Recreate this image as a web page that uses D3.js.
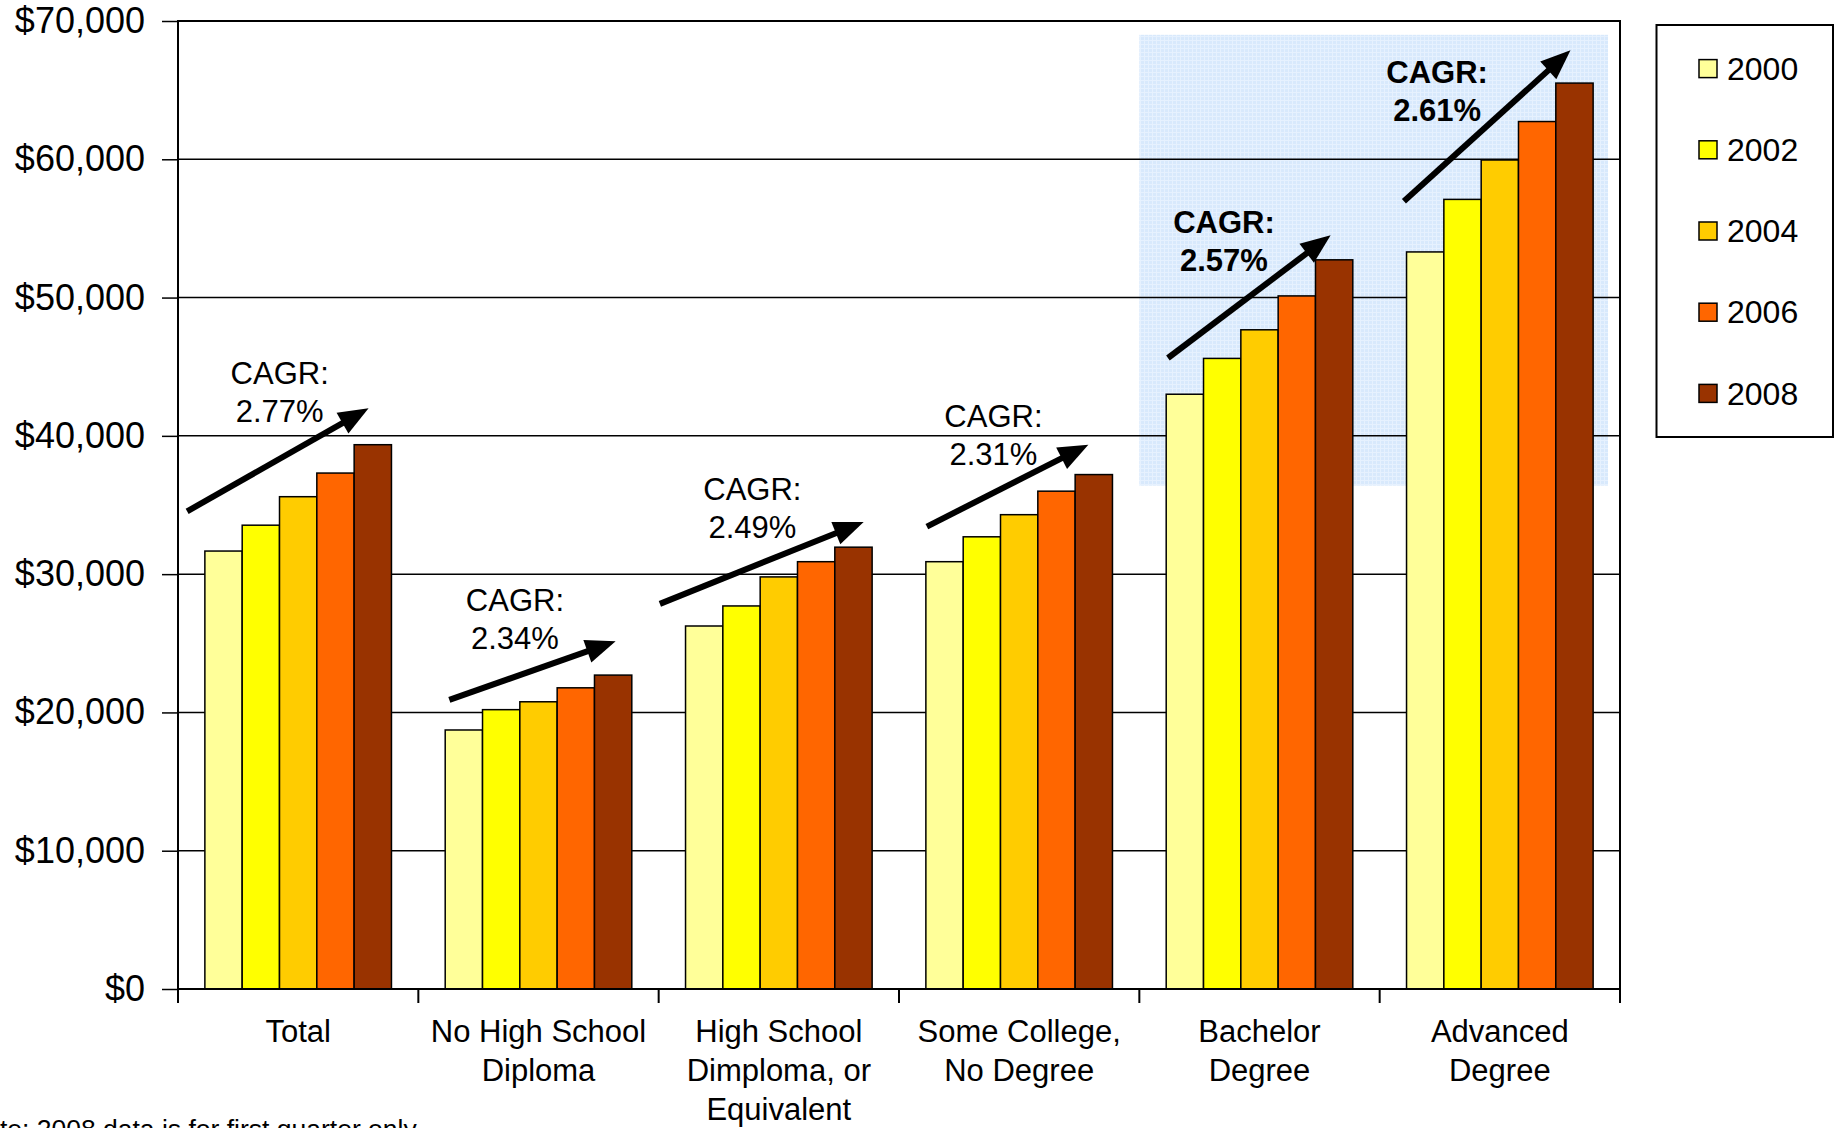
<!DOCTYPE html>
<html>
<head>
<meta charset="utf-8">
<script src="https://cdn.jsdelivr.net/npm/d3@7"></script>
<style>
  body { margin: 0; background: #fff; }
  svg { display: block; font-family: "Liberation Sans", Arial, sans-serif; }
</style>
</head>
<body>
<script>
// ---- data ----
var categories = ["Total", "No High School Diploma", "High School Dimploma, or Equivalent",
                  "Some College, No Degree", "Bachelor Degree", "Advanced Degree"];
var categoryLines = [["Total"], ["No High School", "Diploma"], ["High School", "Dimploma, or", "Equivalent"],
                     ["Some College,", "No Degree"], ["Bachelor", "Degree"], ["Advanced", "Degree"]];
var years = ["2000", "2002", "2004", "2006", "2008"];

var income2000 = [31670, 18730, 26250, 30900, 43010, 53300];
var income2002 = [33540, 20200, 27700, 32700, 45600, 57100];
var income2004 = [35600, 20770, 29800, 34300, 47670, 59950];
var income2006 = [37310, 21780, 30900, 36000, 50120, 62730];
var income2008 = [39360, 22700, 31950, 37200, 52730, 65510];
var seriesValues = [income2000, income2002, income2004, income2006, income2008];

var yTicks = [0, 10000, 20000, 30000, 40000, 50000, 60000, 70000];

// CAGR annotations: label, arrow tail/tip as [fraction of category band, value]
var cagrLabels = ["2.77%", "2.34%", "2.49%", "2.31%", "2.57%", "2.61%"];
var arrowTail = [[0.038, 34540], [0.129, 20910], [0.005, 27850], [0.116, 33440], [0.119, 45630], [0.101, 56960]];
var arrowTip  = [[0.793, 41990], [0.821, 25140], [0.853, 33770], [0.788, 39360], [0.796, 54510], [0.794, 67880]];
var labelAnchor = [[0.423, 44550], [0.402, 28130], [0.390, 36160], [0.393, 41390], [0.352, 55430], [0.239, 66270]];

var highlighted = ["Bachelor Degree", "Advanced Degree"];
var highlightValues = [36400, 69000];

var note = "Note: 2008 data is for first quarter only";

// ---- layout ----
var width_outer = 1835, height_outer = 1128;
var margin = {top: 21, left: 178, right: 215, bottom: 139};
var plotRight = width_outer - margin.right;
var plotBottom = height_outer - margin.bottom;
var colors = ["#FFFF99", "#FFFF00", "#FFCC00", "#FF6600", "#993300"];

var svg = d3.select("body").append("svg")
  .attr("width", width_outer)
  .attr("height", height_outer);

var x0 = d3.scaleBand().domain(categories).range([margin.left, plotRight]).padding(0);
var x1 = d3.scaleBand().domain(years).range([0, x0.bandwidth()]).paddingInner(0).paddingOuter(0.72);
var y = d3.scaleLinear().domain([0, 70000]).range([plotBottom, margin.top]);
var color = d3.scaleOrdinal().domain(years).range(colors);

function bandX(ci, frac) { return x0(categories[ci]) + frac * x0.bandwidth(); }

// highlight area
var defs = svg.append("defs");
var pat = defs.append("pattern")
  .attr("id", "dots")
  .attr("width", 4).attr("height", 4)
  .attr("patternUnits", "userSpaceOnUse");
pat.append("rect").attr("width", 4).attr("height", 4).attr("fill", "#d8e9fc");
pat.append("rect").attr("width", 4).attr("height", 1).attr("fill", "#e6f1fe");
pat.append("rect").attr("width", 1).attr("height", 4).attr("fill", "#e6f1fe");

var hx = x0(highlighted[0]);
var hx2 = x0(highlighted[1]) + x0.bandwidth() * 0.95;
svg.append("rect")
  .attr("x", hx)
  .attr("y", y(highlightValues[1]))
  .attr("width", hx2 - hx)
  .attr("height", y(highlightValues[0]) - y(highlightValues[1]))
  .attr("fill", "url(#dots)");

// gridlines
svg.append("g").selectAll("line")
  .data(yTicks.slice(1, -1))
  .enter().append("line")
  .attr("x1", margin.left).attr("x2", plotRight)
  .attr("y1", function(d) { return y(d); }).attr("y2", function(d) { return y(d); })
  .attr("stroke", "#000").attr("stroke-width", 1.5);

// bars
var groups = svg.append("g").selectAll("g")
  .data(categories)
  .enter().append("g")
  .attr("transform", function(d) { return "translate(" + x0(d) + ",0)"; });

groups.selectAll("rect")
  .data(function(d, i) { return years.map(function(yr, j) { return {year: yr, value: seriesValues[j][i]}; }); })
  .enter().append("rect")
  .attr("x", function(d) { return x1(d.year); })
  .attr("y", function(d) { return y(d.value); })
  .attr("width", x1.bandwidth())
  .attr("height", function(d) { return y(0) - y(d.value); })
  .attr("fill", function(d) { return color(d.year); })
  .attr("stroke", "#000")
  .attr("stroke-width", 1.5);

// plot frame
svg.append("rect")
  .attr("x", margin.left).attr("y", margin.top)
  .attr("width", plotRight - margin.left).attr("height", plotBottom - margin.top)
  .attr("fill", "none").attr("stroke", "#000").attr("stroke-width", 2);

// y axis
var yAxis = d3.axisLeft(y)
  .tickValues(yTicks)
  .tickSize(16)
  .tickPadding(17)
  .tickFormat(d3.format("$,"));
var gy = svg.append("g")
  .attr("transform", "translate(" + margin.left + ",0)")
  .call(yAxis);
gy.select(".domain").remove();
gy.selectAll(".tick line").attr("stroke", "#000").attr("stroke-width", 1.5);
gy.selectAll(".tick text")
  .attr("fill", "#000")
  .style("font-family", "Liberation Sans, Arial, sans-serif")
  .style("font-size", "36px");

// x axis ticks at category boundaries
var bounds = categories.map(function(c) { return x0(c); }).concat([plotRight]);
svg.append("g").selectAll("line")
  .data(bounds)
  .enter().append("line")
  .attr("x1", function(d) { return d; }).attr("x2", function(d) { return d; })
  .attr("y1", plotBottom).attr("y2", plotBottom + 14)
  .attr("stroke", "#000").attr("stroke-width", 2);

// category labels
var catLabels = svg.append("g").selectAll("text")
  .data(categories)
  .enter().append("text")
  .attr("text-anchor", "middle")
  .attr("font-size", 31)
  .attr("fill", "#000");
catLabels.each(function(d, i) {
  var t = d3.select(this);
  var cx = x0(d) + x0.bandwidth() / 2;
  categoryLines[i].forEach(function(line, k) {
    t.append("tspan")
      .attr("x", cx)
      .attr("y", plotBottom + 42 + k * 39.3)
      .attr("dy", "0.35em")
      .text(line);
  });
});

// CAGR arrows
var headLen = 30, headHalf = 12;
categories.forEach(function(c, i) {
  var xa = bandX(i, arrowTail[i][0]), ya = y(arrowTail[i][1]);
  var xb = bandX(i, arrowTip[i][0]), yb = y(arrowTip[i][1]);
  var dx = xb - xa, dy = yb - ya, len = Math.sqrt(dx * dx + dy * dy);
  var ux = dx / len, uy = dy / len;
  var bx = xb - ux * headLen, by = yb - uy * headLen;
  svg.append("line")
    .attr("x1", xa).attr("y1", ya)
    .attr("x2", bx + ux * 2).attr("y2", by + uy * 2)
    .attr("stroke", "#000").attr("stroke-width", 6);
  svg.append("path")
    .attr("d", "M" + xb + "," + yb +
               "L" + (bx - uy * headHalf) + "," + (by + ux * headHalf) +
               "L" + (bx + uy * headHalf) + "," + (by - ux * headHalf) + "Z")
    .attr("fill", "#000");

  var bold = highlighted.indexOf(c) >= 0;
  var lx = bandX(i, labelAnchor[i][0]), ly = y(labelAnchor[i][1]);
  var t = svg.append("text")
    .attr("text-anchor", "middle")
    .attr("font-size", 31)
    .attr("font-weight", bold ? "bold" : "normal")
    .attr("fill", "#000");
  t.append("tspan").attr("x", lx).attr("y", ly).attr("dy", "0.35em").text("CAGR:");
  t.append("tspan").attr("x", lx).attr("y", ly + 37.8).attr("dy", "0.35em").text(cagrLabels[i]);
});

// legend
var legend = svg.append("g");
legend.append("rect")
  .attr("x", 1656.5).attr("y", 25)
  .attr("width", 176.5).attr("height", 412)
  .attr("fill", "#fff").attr("stroke", "#000").attr("stroke-width", 2);
var items = legend.selectAll("g.item")
  .data(years)
  .enter().append("g")
  .attr("class", "item")
  .attr("transform", function(d, i) { return "translate(1699," + (68.6 + i * 81.2) + ")"; });
items.append("rect")
  .attr("x", 0).attr("y", -9)
  .attr("width", 18).attr("height", 18)
  .attr("fill", function(d) { return color(d); })
  .attr("stroke", "#000").attr("stroke-width", 1.5);
items.append("text")
  .attr("x", 28).attr("y", 0).attr("dy", "0.35em")
  .attr("font-size", 32)
  .text(function(d) { return d; });

// footnote (cut off at the left in the original)
svg.append("text")
  .attr("x", -34).attr("y", 1138)
  .attr("font-size", 26.5)
  .attr("fill", "#000")
  .text(note);
</script>
</body>
</html>
